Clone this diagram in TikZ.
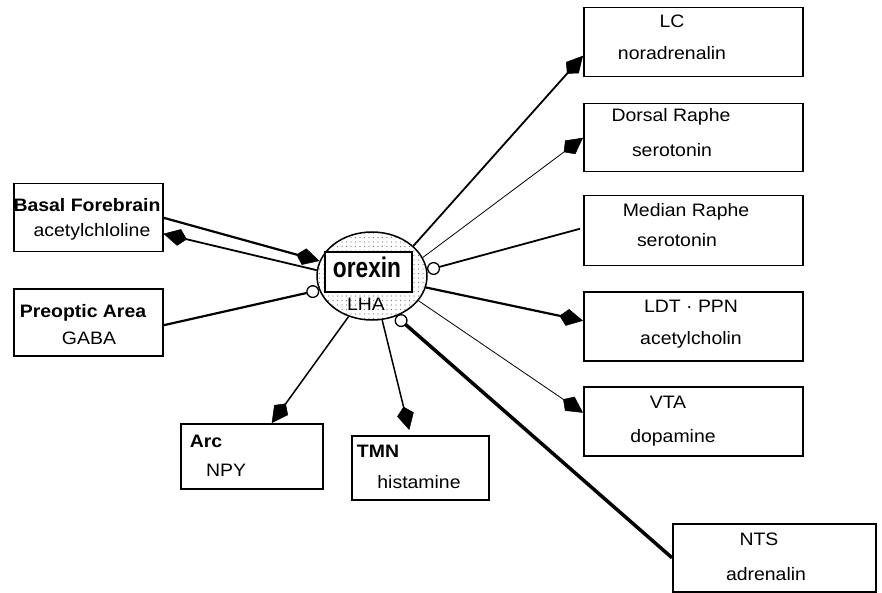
\documentclass[tikz,border=0pt]{standalone}
\usepackage{fontspec}
\setmainfont{Liberation Sans}[FakeStretch=1.08]
\usetikzlibrary{arrows.meta,shapes.geometric,patterns.meta,calc}
\begin{document}
\begin{tikzpicture}[x=1pt,y=-1pt,
  box/.style={draw,line width=1.5pt,inner sep=0pt,anchor=north west},
  lbl/.style={font=\fontsize{18}{20}\selectfont,inner sep=0pt,anchor=base},
  blbl/.style={font=\fontsize{18}{20}\selectfont\bfseries,inner sep=0pt,anchor=base},
  arr/.style={-{Kite[length=24pt,width=17pt,inset=8pt,line width=0.5pt]}},
  inhend/.style={-{Circle[open,length=13pt,line width=1.3pt]}},
  inhstart/.style={{Circle[open,length=13pt,line width=1.3pt]}-},
 ]
\useasboundingbox (0,0) rectangle (882,593);

% boxes
\node[box,minimum width=219pt,minimum height=69pt] (lc)  at (583,7)   {};
\node[box,minimum width=219pt,minimum height=68pt] (dr)  at (583,103) {};
\node[box,minimum width=219pt,minimum height=70pt] (mr)  at (583,195) {};
\node[box,minimum width=219pt,minimum height=69pt] (ldt) at (583,291) {};
\node[box,minimum width=219pt,minimum height=69pt] (vta) at (583,386) {};
\node[box,minimum width=203pt,minimum height=68pt] (nts) at (672,523) {};
\node[box,minimum width=149pt,minimum height=68pt] (bf)  at (13,183)  {};
\node[box,minimum width=149pt,minimum height=67pt] (poa) at (13,288)  {};
\node[box,minimum width=142pt,minimum height=65pt] (arc) at (180,423) {};
\node[box,minimum width=137pt,minimum height=64pt] (tmn) at (351,435) {};

% texts
\node[lbl] (lct)  at (672,28)  {LC};
\node[lbl] (lcn)  at (672,60)  {noradrenalin};
\node[lbl] (drt)  at (671,122) {Dorsal Raphe};
\node[lbl] (drn)  at (672,157) {serotonin};
\node[lbl] (mrt)  at (686,217) {Median Raphe};
\node[lbl] (mrn)  at (677,247) {serotonin};
\node[lbl] (ldtt) at (691,312) {LDT · PPN};
\node[lbl] (ldtn) at (691,344) {acetylcholin};
\node[lbl] (vtat) at (668,408) {VTA};
\node[lbl] (vtan) at (673,442) {dopamine};
\node[lbl] (ntst) at (759,545) {NTS};
\node[lbl] (ntsn) at (766,580) {adrenalin};
\node[blbl] (bft) at (87,212)  {Basal Forebrain};
\node[lbl]  (bfn) at (92,237)  {acetylchloline};
\node[blbl] (poat) at (83,317) {Preoptic Area};
\node[lbl]  (poan) at (89,344) {GABA};
\node[blbl] (arct) at (206,447) {Arc};
\node[lbl]  (arcn) at (226,476) {NPY};
\node[blbl] (tmnt) at (378,457) {TMN};
\node[lbl]  (tmnn) at (419,488) {histamine};

% LHA
\node[ellipse,draw,line width=1.5pt,minimum width=110pt,minimum height=88pt,
      pattern={Dots[distance=4.5pt,radius=0.55pt]},pattern color=black!55] (lha) at (372,276) {};
\node[draw,fill=white,line width=1.6pt,minimum width=87pt,minimum height=40pt,inner sep=0pt] (obox) at (368.5,272) {};
\node[inner sep=0pt,anchor=base] (orx) at (367,277) {\scalebox{1}[1.35]{\fontsize{21}{22}\selectfont\bfseries orexin}};
\node[lbl] (lhat) at (366,310) {LHA};

% connectors
\draw[arr,line width=2.2pt] (bf.east) -- (lha.164);
\draw[arr,line width=1.8pt] (lha.174) -- ([yshift=-16pt]bf.east);
\draw[inhend,line width=2.2pt] ([yshift=-3pt]poa.east) -- (lha.195);
\draw[arr,line width=1.5pt] (lha.240) -- ([xshift=20pt]arc.north);
\draw[arr,line width=1.5pt] (lha.283) -- ([xshift=-11pt,yshift=5pt]tmn.north);
\draw[arr,line width=1.8pt] (lha.36) -- ([yshift=-13.5pt]lc.west);
\draw[arr,line width=0.8pt] (lha.20) -- (dr.west);
\draw[inhstart,line width=1.8pt] (lha.6) -- ([xshift=-3pt,yshift=2pt]mr.west);
\draw[arr,line width=2.2pt] (lha.348) -- ([yshift=5.5pt]ldt.west);
\draw[arr,line width=0.8pt] (lha.332) -- ([yshift=8.5pt]vta.west);
\draw[inhstart,line width=3.5pt] (lha.301) -- (nts.west);
\end{tikzpicture}
\end{document}
